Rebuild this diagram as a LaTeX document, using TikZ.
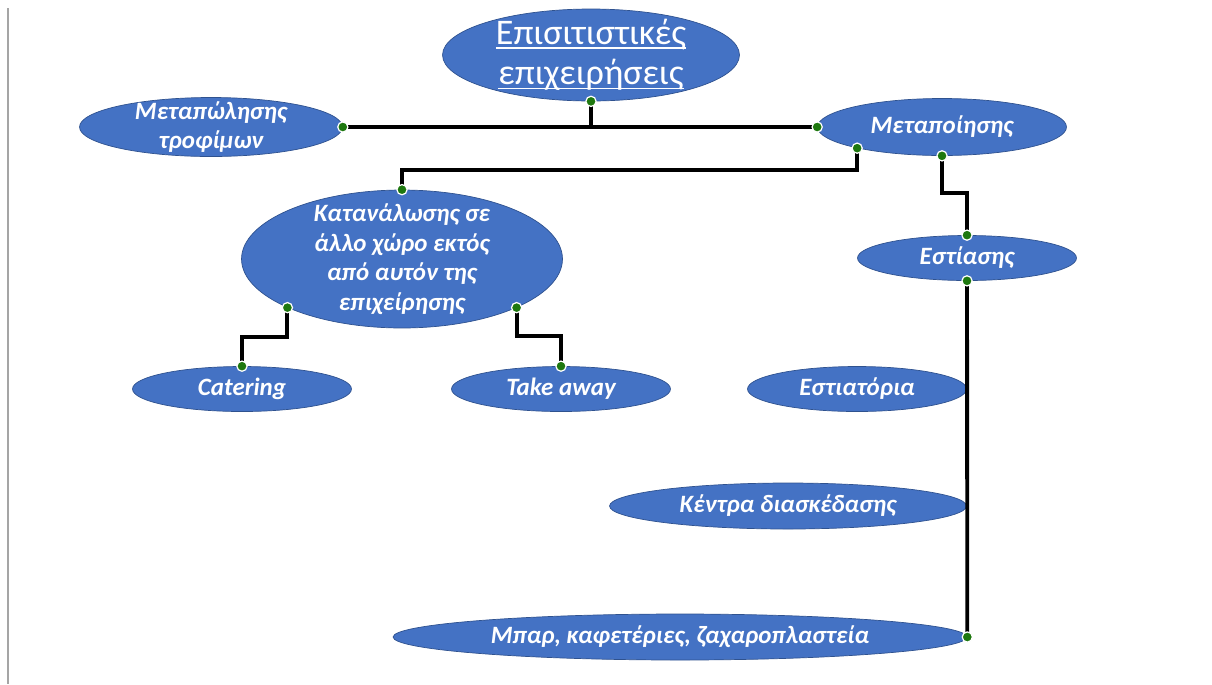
\documentclass[tikz,border=0pt]{standalone}
\usepackage{fontspec}
\setmainfont{Carlito}
\usetikzlibrary{shapes.geometric}

\definecolor{shapeblue}{RGB}{68,114,196}
\definecolor{shapeedge}{RGB}{47,82,143}
\definecolor{dotgreen}{RGB}{30,120,15}
\definecolor{edgegray}{RGB}{165,165,165}

% thicker underline for the title
\newcommand\titleline[1]{\setbox0\hbox{#1}\rlap{\rule[-2.6pt]{\wd0}{1.1pt}}\box0}

\tikzset{
  bubble/.style={ellipse, fill=shapeblue, draw=shapeedge, line width=0.4pt,
    text=white, align=center, inner sep=-30pt,
    font=\fontsize{14.2}{16.8}\selectfont\bfseries\itshape},
  link/.style={line width=2.2pt, black},
  dot/.style={fill=dotgreen, draw=white, line width=0.7pt},
}

\begin{document}
\begin{tikzpicture}[x=0.02cm,y=-0.02cm]
			\useasboundingbox (0,0) rectangle (1212,684);

			% Page edge
			\draw[edgegray, line width=0.6pt] (8,8) -- (8,684);

			% Top level
			\node[bubble, minimum width=5.94cm, minimum height=1.84cm,
			      font=\fontsize{20.5}{23}\selectfont] (title) at (591,55)
			      {\titleline{Επισιτιστικές}\\\titleline{επιχειρήσεις}};

			% Second level
			\node[bubble, minimum width=5.26cm, minimum height=1.18cm] (resale) at (211,127) {Μεταπώλησης\\τροφίμων};
			\node[bubble, minimum width=4.98cm, minimum height=1.14cm] (process) at (942,127) {Μεταποίησης};

			% Third level
			\node[bubble, minimum width=6.42cm, minimum height=2.76cm] (offsite) at (402,259)
			      {Κατανάλωσης σε\\άλλο χώρο εκτός\\από αυτόν της\\επιχείρησης};
			\node[bubble, minimum width=4.38cm, minimum height=0.9cm] (dining) at (967,258) {Εστίασης};

			% Leaves
			\node[bubble, minimum width=4.38cm, minimum height=0.9cm] (catering) at (242,389) {Catering};
			\node[bubble, minimum width=4.38cm, minimum height=0.9cm] (takeaway) at (561,389) {Take away};
			\node[bubble, minimum width=4.38cm, minimum height=0.9cm] (restaurants) at (857,389) {Εστιατόρια};
			\node[bubble, minimum width=7.14cm, minimum height=0.92cm] (clubs) at (788,506) {Κέντρα διασκέδασης};
			\node[bubble, minimum width=11.48cm, minimum height=0.92cm] (bars) at (680,637) {Μπαρ, καφετέριες, ζαχαροπλαστεία};

			% Connectors
			\draw[link] (title.south) |- (resale.east);
			\draw[link] (title.south) |- (process.west);
			\draw[link] (process.194) -- ++(0,22) -| (offsite.north);
			\draw[link] (process.south) -- ++(0,37) -| (dining.north);
			\draw[link] (offsite.203) -- ++(0,29) -| (catering.north);
			\draw[link] (offsite.337) -- ++(0,28) -| (takeaway.north);
			\draw[link] (dining.south) -- (bars.east);

			% End points
			\foreach \p in {title.south, resale.east, process.west, process.194, process.south,
			                offsite.north, dining.north, dining.south, offsite.203, offsite.337,
			                catering.north, takeaway.north, bars.east}
			  \filldraw[dot] (\p) circle (2.9pt);

		\end{tikzpicture}
\end{document}
